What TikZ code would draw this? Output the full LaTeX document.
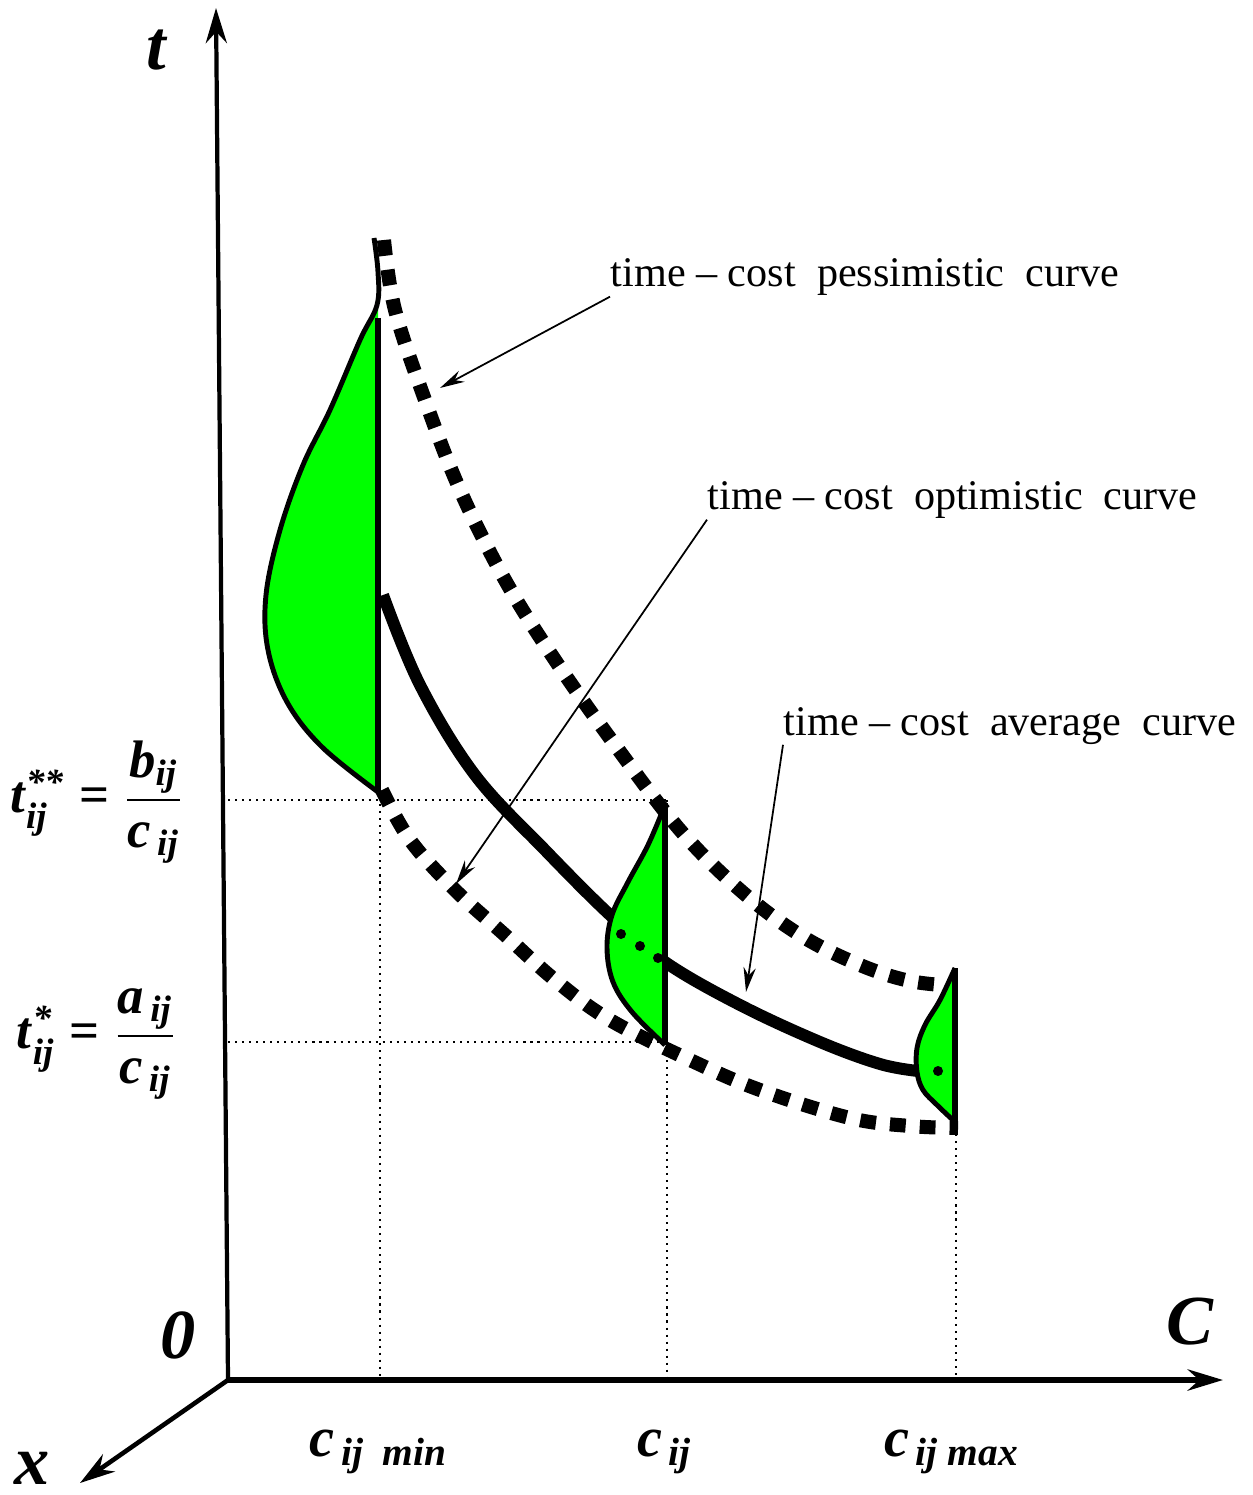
\documentclass[tikz,border=0pt]{standalone}
\usepackage{amsmath}
\usepackage{fontspec}
\setmainfont{Liberation Serif}
\usetikzlibrary{arrows.meta}
\definecolor{regiongreen}{RGB}{0,255,0}
\newcommand{\bfit}[1]{\textbf{\textit{#1}}}
\newcommand{\bfeq}{\mkern5mu\textbf{=}\mkern5mu}

\begin{document}
\begin{tikzpicture}[
  x=0.01cm, y=-0.01cm,
  axis/.style={draw=black, line width=1.5pt, -{Stealth[length=10pt,width=6pt]}},
  guide/.style={draw=black, line width=0.6pt, dash pattern=on 0.6pt off 1.4pt},
  bound/.style={draw=black, line width=4pt, dash pattern=on 4.5pt off 4pt},
  mean/.style={draw=black, line width=3.4pt},
  region/.style={fill=regiongreen},
  rim/.style={draw=black, line width=1.4pt},
  callout/.style={draw=black, line width=0.5pt, -{Stealth[length=7pt,width=3.5pt]}},
  curvelabel/.style={anchor=base west, inner sep=0pt, font=\fontsize{12}{14}\selectfont},
  axislabel/.style={inner sep=0pt, font=\fontsize{20}{22}\selectfont},
  ticklabel/.style={inner sep=0pt, font=\fontsize{16}{19}\selectfont},
  formula/.style={inner sep=0pt, font=\fontsize{15}{18}\selectfont}
]
  \useasboundingbox (0,0) rectangle (1252,1495);

  % Axes.
  \coordinate (O) at (228,1380);
  \coordinate (tEnd) at (216,8);
  \coordinate (cEnd) at (1223,1380);
  \coordinate (xEnd) at (80,1483);
  \draw[axis, line width=1.2pt] (O) -- (tEnd);
  \draw[axis, line width=1.7pt] (O) -- (cEnd);
  \draw[axis, line width=1.3pt] (O) -- (xEnd);

  \node[axislabel] (tLbl) at (157,50) {\bfit{t}};
  \node[axislabel] (zeroLbl) at (178,1335) {\bfit{0}};
  \node[axislabel] (cLbl) at (1190,1322) {\bfit{C}};
  \node[axislabel] (xLbl) at (32,1468) {\bfit{x}};

  % Cost ticks on the C axis.
  \node[ticklabel] (cMin) at (379,1452) {$\bfit{c}_{\,\bfit{ij\ \ min}}$};
  \node[ticklabel] (cMid) at (665,1452) {$\bfit{c}_{\,\bfit{ij}}$};
  \node[ticklabel] (cMax) at (952,1452) {$\bfit{c}_{\,\bfit{ij max}}$};

  % Time levels on the t axis.
  \node[formula] (tHigh) at (97,802)
    {$\bfit{t}^{\bfit{**}}_{\bfit{ij}}\bfeq\dfrac{\bfit{b}_{\bfit{ij}}}{\bfit{c}_{\,\bfit{ij}}}$};
  \node[formula] (tLow) at (97,1044)
    {$\bfit{t}^{\bfit{*}}_{\bfit{ij}}\bfeq\dfrac{\bfit{a}_{\,\bfit{ij}}}{\bfit{c}_{\,\bfit{ij}}}$};

  % Dotted guide lines.
  \coordinate (gHighL) at (228,800);
  \coordinate (gHighR) at (666,800);
  \coordinate (gLowL) at (228,1042);
  \coordinate (gLowR) at (666,1042);
  \coordinate (gMinT) at (380,790);
  \coordinate (gMinB) at (380,1386);
  \coordinate (gMidT) at (667,800);
  \coordinate (gMidB) at (667,1380);
  \coordinate (gMaxT) at (956,1120);
  \coordinate (gMaxB) at (956,1380);
  \draw[guide] (gHighL) -- (gHighR);
  \draw[guide] (gLowL) -- (gLowR);
  \draw[guide] (gMinT) -- (gMinB);
  \draw[guide] (gMidT) -- (gMidB);
  \draw[guide] (gMaxT) -- (gMaxB);

  % Pessimistic, optimistic and average time-cost curves.
  \draw[bound] plot[smooth, tension=0.6] coordinates {(384,240) (395,310)
    (425,400) (460,490) (505,580) (555,660) (615,745) (680,830) (740,890)
    (800,935) (860,965) (910,981) (956,986)};
  \draw[bound] plot[smooth, tension=0.6] coordinates {(382,790) (410,840)
    (455,890) (505,935) (555,980) (610,1020) (690,1060) (760,1090)
    (850,1118) (910,1126) (958,1128)};
  \draw[mean] plot[smooth, tension=0.6] coordinates {(383,595) (420,685)
    (475,775) (545,850) (610,915) (665,962) (740,1005) (820,1042)
    (880,1064) (918,1071)};

  % Green regions over the curves.
  \fill[region] plot[smooth, tension=0.6] coordinates {(378,305) (360,340)
    (330,410) (303,465) (280,530) (266,595) (268,650) (287,702) (322,747)
    (378,792)} -- cycle;
  \draw[rim] plot[smooth, tension=0.6] coordinates {(374,238) (378,272)
    (377,305) (360,340) (330,410) (303,465) (280,530) (266,595) (268,650)
    (287,702) (322,747) (378,792)};
  \draw[rim, line width=1.8pt] (378,318) -- (378,792);

  \fill[region] plot[smooth, tension=0.6] coordinates {(665,805) (648,845)
    (628,882) (612,915) (607,948) (613,982) (632,1012) (665,1045)} -- cycle;
  \draw[rim] plot[smooth, tension=0.6] coordinates {(665,805) (648,845)
    (628,882) (612,915) (607,948) (613,982) (632,1012) (665,1045)};
  \draw[rim, line width=1.8pt] (665,803) -- (665,1045);
  \fill (621,934) circle (5);
  \fill (640,946) circle (5);
  \fill (658,958) circle (5);

  \fill[region] plot[smooth, tension=0.6] coordinates {(955,968) (940,1000)
    (925,1025) (917,1048) (917,1072) (923,1090) (937,1105) (955,1122)} -- cycle;
  \draw[rim] plot[smooth, tension=0.6] coordinates {(955,968) (940,1000)
    (925,1025) (917,1048) (917,1072) (923,1090) (937,1105) (955,1122)};
  \draw[rim, line width=1.8pt] (955,968) -- (955,1122);
  \fill (938,1071) circle (5);

  % Curve names with call-out arrows.
  \node[curvelabel] (lblPess) at (610,287) {time -- cost\ \ pessimistic\ \ curve};
  \node[curvelabel] (lblOpt) at (707,510) {time -- cost\ \ optimistic\ \ curve};
  \node[curvelabel] (lblMean) at (783,735) {time -- cost\ \ average\ \ curve};
  \coordinate (pessTip) at (440,388);
  \coordinate (optTip) at (456,884);
  \coordinate (meanTip) at (746,992);
  \draw[callout] (lblPess.south west) -- (pessTip);
  \draw[callout] (lblOpt.south west) -- (optTip);
  \draw[callout] (lblMean.south west) -- (meanTip);
\end{tikzpicture}
\end{document}
